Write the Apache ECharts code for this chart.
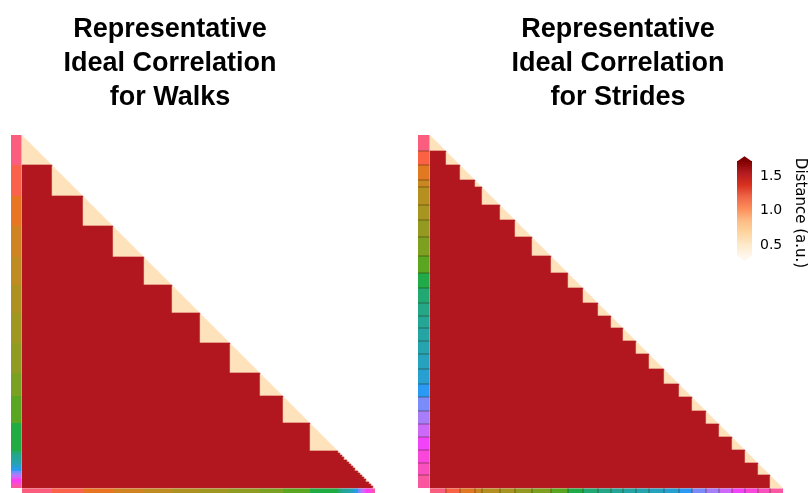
<!DOCTYPE html>
<html>
<head>
<meta charset="utf-8">
<script src="https://cdn.jsdelivr.net/npm/echarts@6/dist/echarts.min.js"></script>
<style>
  html, body { margin: 0; padding: 0; background: #fff; }
  #chart { width: 809px; height: 493px; }
</style>
</head>
<body>
<div id="chart"></div>
<script>
// Samples per walk, in the order they run along both axes of the matrix
const walkSizes = [30, 31, 30, 31, 28, 28, 30, 30, 23, 27, 28,
  2, 2, 2, 3, 2, 2, 2, 2, 3, 2, 2, 2, 2, 3, 2, 2, 2];
// Samples per stride
const strideSizes = [16, 14, 15, 7, 18, 15, 17, 19, 17, 15, 15, 13, 12,
  13, 13, 15, 15, 13, 14, 13, 13, 13, 13, 12, 13];
// Ideal distances: small inside one group, large between groups
const sameGroupDistance = 0.56;
const otherGroupDistance = 1.55;
const distanceMin = 0.34;
const distanceMax = 1.72;
const colorbarTicks = [0.5, 1.0, 1.5];
const panelTitles = [
  'Representative\nIdeal Correlation\nfor Walks',
  'Representative\nIdeal Correlation\nfor Strides'
];
const colorbarLabel = 'Distance (a.u.)';

// Orange-red colour ramp
const colormap = ['#fff7ec', '#fee8c8', '#fdd49e', '#fdbb84', '#fc8d59',
  '#ef6548', '#d7301f', '#b31b20', '#7f0000'];

// HUSL palette (same conversion as seaborn's husl_palette)
const M = [[3.2406, -1.5372, -0.4986], [-0.9689, 1.8758, 0.0415], [0.0557, -0.2040, 1.0570]];
const REF_U = 0.19784, REF_V = 0.46834, KAPPA = 903.2962962962963, EPS = 0.0088564516790356308;
function maxChroma(L, H) {
  const hr = H * Math.PI / 180, sinH = Math.sin(hr), cosH = Math.cos(hr);
  const sub1 = Math.pow(L + 16, 3) / 1560896;
  const sub2 = sub1 > EPS ? sub1 : L / KAPPA;
  let res = Infinity;
  for (const [m1, m2, m3] of M) {
    const top = (0.99915 * m1 + 1.05122 * m2 + 1.14460 * m3) * sub2;
    const rb = 0.86330 * m3 - 0.17266 * m2;
    const lb = 0.12949 * m3 - 0.38848 * m1;
    const bottom = (rb * sinH + lb * cosH) * sub2;
    for (const t of [0, 1]) {
      const C = L * (top - 1.05122 * t) / (bottom + 0.17266 * sinH * t);
      if (C > 0 && C < res) res = C;
    }
  }
  return res;
}
function huslToHex(h, s, l) {
  const C = maxChroma(l, h) / 100 * s;
  const hr = h * Math.PI / 180;
  const U = Math.cos(hr) * C, V = Math.sin(hr) * C;
  const t = (l + 16) / 116;
  const Y = t * t * t > EPS ? t * t * t : l / KAPPA;
  const vu = U / (13 * l) + REF_U, vv = V / (13 * l) + REF_V;
  const X = -(9 * Y * vu) / ((vu - 4) * vv - vu * vv);
  const Z = (9 * Y - 15 * vv * Y - vv * X) / (3 * vv);
  const rgb = M.map(r => r[0] * X + r[1] * Y + r[2] * Z)
    .map(c => c <= 0.0031308 ? 12.92 * c : 1.055 * Math.pow(c, 1 / 2.4) - 0.055)
    .map(c => Math.max(0, Math.min(255, Math.round(c * 255))));
  return 'rgb(' + rgb.join(',') + ')';
}
function huslPalette(n) {
  const out = [];
  for (let i = 0; i < n; i++) out.push(huslToHex(((i / n + 0.01) % 1) * 359, 0.95 * 99, 0.62 * 99));
  return out;
}

// Lower triangle of the distance matrix (diagonal and above left empty)
function buildMatrix(sizes) {
  const group = [];
  sizes.forEach((n, k) => { for (let i = 0; i < n; i++) group.push(k); });
  const data = [];
  for (let r = 1; r < group.length; r++) {
    for (let c = 0; c < r; c++) {
      data.push([c, r, group[r] === group[c] ? sameGroupDistance : otherGroupDistance]);
    }
  }
  const blocks = [];
  let start = 0;
  sizes.forEach((n, k) => { blocks.push([start, start + n, k]); start += n; });
  return { n: group.length, data, blocks };
}

const panels = [
  { sizes: walkSizes, title: panelTitles[0], titleX: 170, left: 22, top: 135, size: 353,
    stripLeft: 11, stripWidth: 10.5, separators: false },
  { sizes: strideSizes, title: panelTitles[1], titleX: 618, left: 430, top: 135, size: 353,
    stripLeft: 418, stripWidth: 11.5, separators: true }
];

const grid = [], xAxis = [], yAxis = [], series = [];
const heatIdx = [];
const stripSeries = [];

panels.forEach((p, pi) => {
  const m = buildMatrix(p.sizes);
  const palette = huslPalette(p.sizes.length);
  const cats = Array.from({ length: m.n }, (_, i) => String(i));
  const g0 = grid.length;
  grid.push({ left: p.left, top: p.top, width: p.size, height: p.size });
  grid.push({ left: p.stripLeft, top: p.top, width: p.stripWidth, height: p.size });
  grid.push({ left: p.left, top: p.top + p.size + 0.5, width: p.size, height: 12 });

  xAxis.push({ type: 'category', gridIndex: g0, data: cats, show: false });
  yAxis.push({ type: 'category', gridIndex: g0, data: cats, inverse: true, show: false });
  xAxis.push({ type: 'value', gridIndex: g0 + 1, min: 0, max: 1, show: false });
  yAxis.push({ type: 'value', gridIndex: g0 + 1, min: 0, max: m.n, inverse: true, show: false });
  xAxis.push({ type: 'value', gridIndex: g0 + 2, min: 0, max: m.n, show: false });
  yAxis.push({ type: 'value', gridIndex: g0 + 2, min: 0, max: 1, inverse: true, show: false });

  heatIdx.push(series.length);
  series.push({
    type: 'heatmap', xAxisIndex: g0, yAxisIndex: g0, data: m.data,
    progressive: 0, emphasis: { disabled: true }, silent: true
  });

  [true, false].forEach(vertical => {
    const ai = vertical ? g0 + 1 : g0 + 2;
    stripSeries.push({
      type: 'custom', xAxisIndex: ai, yAxisIndex: ai, data: m.blocks, silent: true,
      renderItem: (params, api) => {
        const s = api.value(0), e = api.value(1), k = api.value(2);
        const a = vertical ? api.coord([0, s]) : api.coord([s, 0]);
        const b = vertical ? api.coord([1, e]) : api.coord([e, 1]);
        const children = [{
          type: 'rect',
          shape: { x: a[0], y: a[1], width: b[0] - a[0], height: b[1] - a[1] },
          style: { fill: palette[k] }
        }];
        if (p.separators && k > 0) {
          children.push({
            type: 'rect',
            shape: vertical
              ? { x: a[0], y: Math.round(a[1]) - 0.5, width: b[0] - a[0], height: 1 }
              : { x: Math.round(a[0]) - 0.5, y: a[1], width: 1, height: b[1] - a[1] },
            style: { fill: 'rgba(40,30,0,0.45)' }
          });
        }
        return { type: 'group', children };
      }
    });
  });
});
stripSeries.forEach(s => series.push(s));

// Colour bar with extension arrows at both ends
const cbGrid = grid.length;
grid.push({ left: 737, top: 161, width: 15, height: 95 });
xAxis.push({ type: 'value', gridIndex: cbGrid, min: 0, max: 1, show: false });
yAxis.push({
  type: 'value', gridIndex: cbGrid, min: distanceMin, max: distanceMax, position: 'right',
  axisLine: { show: false },
  splitLine: { show: false },
  axisTick: { show: true, length: 4, customValues: colorbarTicks, lineStyle: { color: '#000', width: 1 } },
  axisLabel: {
    customValues: colorbarTicks, formatter: v => Number(v).toFixed(1), margin: 8,
    color: '#000', fontSize: 14, fontFamily: 'DejaVu Sans'
  }
});
const gradStops = colormap.map((c, i) => ({ offset: i / (colormap.length - 1), color: colormap[colormap.length - 1 - i] }));
series.push({
  type: 'custom', xAxisIndex: cbGrid, yAxisIndex: cbGrid, data: [[0, distanceMin, distanceMax]], silent: true,
  renderItem: (params, api) => {
    const tl = api.coord([0, api.value(2)]);
    const br = api.coord([1, api.value(1)]);
    const x0 = tl[0], x1 = br[0], y0 = tl[1], y1 = br[1];
    const tip = (y1 - y0) * 0.05;
    return {
      type: 'group', children: [
        { type: 'rect', shape: { x: x0, y: y0, width: x1 - x0, height: y1 - y0 },
          style: { fill: new echarts.graphic.LinearGradient(0, 0, 0, 1, gradStops) } },
        { type: 'polygon', shape: { points: [[x0, y0 + 0.5], [x1, y0 + 0.5], [(x0 + x1) / 2, y0 - tip]] },
          style: { fill: colormap[colormap.length - 1] } },
        { type: 'polygon', shape: { points: [[x0, y1 - 0.5], [x1, y1 - 0.5], [(x0 + x1) / 2, y1 + tip]] },
          style: { fill: colormap[0] } }
      ]
    };
  }
});

const chart = echarts.init(document.getElementById('chart'), null, { renderer: 'canvas' });
chart.setOption({
  animation: false,
  backgroundColor: '#fff',
  grid, xAxis, yAxis, series,
  visualMap: {
    type: 'continuous', show: false, min: distanceMin, max: distanceMax,
    seriesIndex: heatIdx, dimension: 2,
    inRange: { color: colormap }
  },
  graphic: [
    ...panels.map(p => ({
      type: 'text', x: p.titleX, y: 13, silent: true,
      style: {
        text: p.title, font: 'bold 27px "Liberation Sans", Arial, sans-serif',
        fill: '#000', align: 'center', verticalAlign: 'top', lineHeight: 34
      }
    })),
    {
      type: 'text', x: 800, y: 213, rotation: -Math.PI / 2, silent: true,
      style: {
        text: colorbarLabel, font: '15px "DejaVu Sans", sans-serif',
        fill: '#000', align: 'center', verticalAlign: 'middle'
      }
    }
  ]
});
</script>
</body>
</html>
